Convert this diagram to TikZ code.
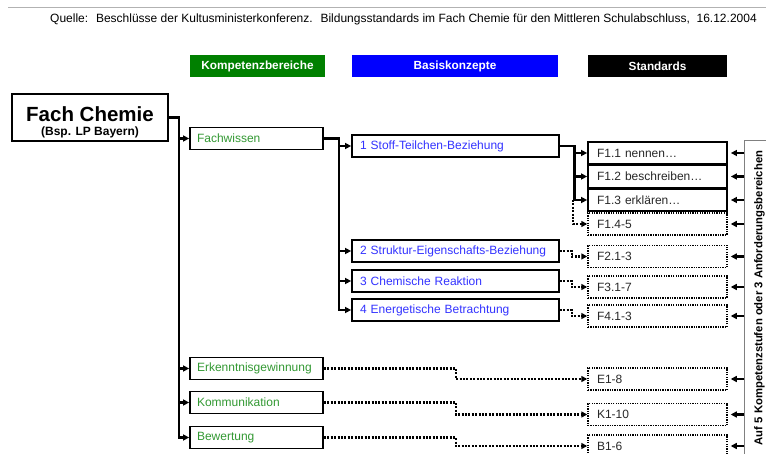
\documentclass[tikz,border=0pt]{standalone}
\usepackage{fontspec}
\setmainfont{Liberation Sans}
\usetikzlibrary{arrows.meta,calc}

\definecolor{kgreen}{RGB}{0,128,0}
\definecolor{ktext}{RGB}{51,153,51}
\definecolor{btext}{RGB}{51,51,255}
\definecolor{stext}{RGB}{40,40,40}

\tikzset{
  hdr/.style={fill=#1, text=white, font=\fontsize{11.8}{13}\selectfont\bfseries,
    minimum height=22pt, inner sep=0pt},
  box/.style={draw=black, line width=1.8pt, fill=white, minimum height=22pt,
    inner ysep=0pt, align=left, font=\fontsize{12}{14}\selectfont},
  kbox/.style={box, text=ktext, inner xsep=7pt, text width=119pt},
  bbox/.style={box, text=btext, inner xsep=8pt, text width=191pt},
  sbox/.style={box, text=stext, inner xsep=9pt, text width=121pt},
  sdot/.style={sbox, draw=black, line width=1.5pt, dash pattern=on 1.3pt off 1.1pt},
  conn/.style={line width=2.2pt, -{Triangle[length=6pt,width=6pt]}},
  dconn/.style={line width=2.2pt, dash pattern=on 2pt off 1.4pt,
    -{Triangle[length=6pt,width=6pt]}},
  plain/.style={inner sep=0pt, anchor=base},
}

\begin{document}
\begin{tikzpicture}[x=1pt,y=-1pt]
\useasboundingbox (0,0) rectangle (766,454);
\clip (0,0) rectangle (766,454);

% source line
\draw[gray!60, line width=0.8pt] (8,7) -- (766,7);
\node[anchor=east, inner sep=0pt, font=\fontsize{12}{14}\selectfont] (src) at (757,19)
  {Quelle:~ Beschlüsse der Kultusministerkonferenz.~ Bildungsstandards im Fach Chemie für den Mittleren Schulabschluss,~ 16.12.2004};

% column headers
\node[hdr=kgreen, minimum width=135pt] (hk) at (257.5,66) {Kompetenzbereiche};
\node[hdr=blue, minimum width=206pt] (hb) at (455,66) {Basiskonzepte};
\node[hdr=black, minimum width=139pt] (hs) at (657.5,66) {Standards};

% subject box with its two lines of text
\node[draw=black, line width=1.8pt, fill=white, minimum width=156pt, minimum height=47pt,
  inner sep=0pt] (fc) at (90,117.5) {};
\node[plain, font=\fontsize{20.5}{22}\selectfont\bfseries] (fct) at (90,122) {Fach Chemie};
\node[plain, font=\fontsize{12}{13}\selectfont\bfseries] (fcs) at (90,135.5) {(Bsp. LP Bayern)};

% competence areas
\node[kbox] (fw) at (256.5,138.5) {Fachwissen};
\node[kbox] (ek) at (256.5,368.5) {Erkenntnisgewinnung};
\node[kbox] (ko) at (256.5,402.5) {Kommunikation};
\node[kbox] (be) at (256.5,437.5) {Bewertung};

% basic concepts
\node[bbox] (b1) at (455.5,146) {1 Stoff-Teilchen-Beziehung};
\node[bbox] (b2) at (455.5,251) {2 Struktur-Eigenschafts-Beziehung};
\node[bbox] (b3) at (455.5,281) {3 Chemische Reaktion};
\node[bbox] (b4) at (455.5,310) {4 Energetische Betrachtung};

% standards
\node[sdot] (s14) at (657.5,224) {F1.4-5};
\node[sbox] (s11) at (657.5,153) {F1.1 nennen…};
\node[sbox] (s12) at (657.5,176.5) {F1.2 beschreiben…};
\node[sbox] (s13) at (657.5,200) {F1.3 erklären…};
\node[sdot] (s21) at (657.5,256.5) {F2.1-3};
\node[sdot] (s31) at (657.5,287) {F3.1-7};
\node[sdot] (s41) at (657.5,316) {F4.1-3};
\node[sdot] (se) at (657.5,379) {E1-8};
\node[sdot] (sk) at (657.5,414.5) {K1-10};
\node[sdot] (sb) at (657.5,446) {B1-6};

% levels box
\node[draw=gray, line width=0.8pt, fill=white, minimum width=30pt, minimum height=330pt,
  anchor=north west, inner sep=0pt] (lv) at (744,140) {};
\node[rotate=90, inner sep=0pt, font=\fontsize{11.3}{13}\selectfont\bfseries] (lvt)
  at (759.5,298) {Auf 5 Kompetenzstufen oder 3 Anforderungsbereichen};

% subject to competence areas
\foreach \k in {fw,ek,ko,be}
  \draw[conn] (fc.east) -- ++(10,0) |- (\k.west);

% Fachwissen to basic concepts
\foreach \b in {b1,b2,b3,b4}
  \draw[conn] (fw.east) -- ++(15,0) |- (\b.west);

% concept 1 to its standards
\coordinate (j1) at ($(b1.east)+(14.5,0)$);
\foreach \s in {s11,s12,s13}
  \draw[conn] (b1.east) -- (j1) |- (\s.west);
\draw[dconn] ([xshift=-1.5pt]j1 |- s13.west) |- (s14.west);

% concepts 2-4 to their standards
\draw[dconn] (b2.east) -- ++(12,0) |- (s21.west);
\draw[dconn] (b3.east) -- ++(12,0) |- (s31.west);
\draw[dconn] (b4.east) -- ++(12,0) |- (s41.west);

% other competence areas to their standards
\draw[dconn] (ek.east) -- ++(132,0) |- (se.west);
\draw[dconn] (ko.east) -- ++(132,0) |- (sk.west);
\draw[dconn] (be.east) -- ++(132,0) |- (sb.west);

% levels apply to every standard
\foreach \s in {s11,s12,s13,s14,s21,s31,s41,se,sk,sb}
  \draw[conn] (lv.west |- \s.east) -- ([xshift=3pt]\s.east);
\end{tikzpicture}
\end{document}
